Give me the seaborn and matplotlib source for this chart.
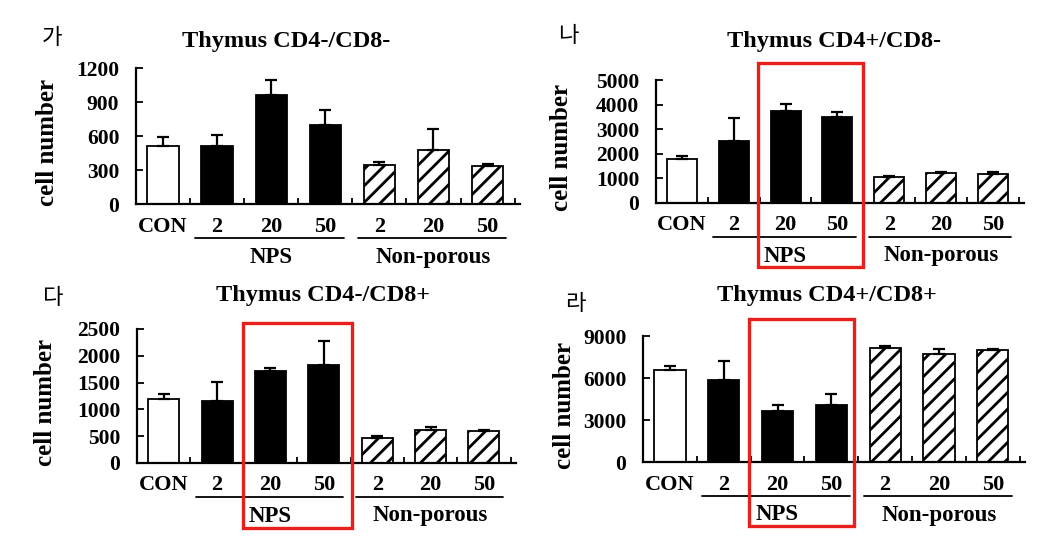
import matplotlib
matplotlib.use('Agg')
import matplotlib.pyplot as plt
import matplotlib.transforms as mtransforms
from matplotlib.patches import Rectangle
import numpy as np
import pandas as pd
import seaborn as sns

# --- data ---
groups = ['CON', 'NPS 2', 'NPS 20', 'NPS 50', 'Non-porous 2', 'Non-porous 20', 'Non-porous 50']
tick_labels = ['CON', '2', '20', '50', '2', '20', '50']
panel_letters = ['가', '나', '다', '라']
titles = ['Thymus CD4-/CD8-', 'Thymus CD4+/CD8-', 'Thymus CD4-/CD8+', 'Thymus CD4+/CD8+']

dn_mean = [510, 515, 960, 700, 345, 480, 335]
dn_err = [80, 95, 135, 130, 30, 185, 15]
cd4_mean = [1770, 2540, 3740, 3500, 1050, 1200, 1160]
cd4_err = [160, 900, 270, 190, 50, 80, 80]
cd8_mean = [1190, 1150, 1725, 1830, 460, 610, 590]
cd8_err = [95, 360, 45, 455, 50, 65, 30]
dp_mean = [6570, 5840, 3620, 4050, 8140, 7740, 8000]
dp_err = [310, 1350, 480, 790, 170, 310, 70]

y_max = [1200, 5000, 2500, 9000]
y_step = [300, 1000, 500, 3000]

# --- layout (pixels in a 1052x547 canvas) ---
W, H = 1052, 547
# left, top, width, height of each plotting area
axes_px = [(136, 68, 384, 136), (656, 80, 368, 123), (137, 329, 379, 134), (643, 336, 382, 126)]
title_px = [(286, 41), (834, 42), (323, 296), (827, 296)]
letter_px = [(52, 37), (568, 35), (53, 297), (575, 304)]
ylabel_x = [-0.2, -0.225, -0.212, -0.175]
# red highlight boxes: x in data units, y in axes fraction
red_boxes = [None, (1.47, 3.49, -0.52, 1.14), (1.48, 3.53, -0.485, 1.045), (1.47, 3.42, -0.51, 1.135)]

sns.set_theme(style='white')
plt.rcParams['font.family'] = ['Liberation Serif', 'DejaVu Serif']
plt.rcParams['font.weight'] = 'bold'
plt.rcParams['hatch.linewidth'] = 2.0
plt.rcParams['hatch.color'] = 'black'
for key in ['text.color', 'axes.labelcolor', 'xtick.color', 'ytick.color', 'axes.edgecolor']:
    plt.rcParams[key] = 'black'

colors = {g: c for g, c in zip(groups, ['white', 'black', 'black', 'black', 'white', 'white', 'white'])}

fig = plt.figure(figsize=(W / 100, H / 100), dpi=100)
fig.patch.set_facecolor('white')

series = [(dn_mean, dn_err), (cd4_mean, cd4_err), (cd8_mean, cd8_err), (dp_mean, dp_err)]

for i, (mean, err) in enumerate(series):
    l, t, w, h = axes_px[i]
    ax = fig.add_axes([l / W, 1 - (t + h) / H, w / W, h / H])
    df = pd.DataFrame({'group': groups, 'value': mean})
    sns.barplot(data=df, x='group', y='value', hue='group', order=groups, hue_order=groups,
                palette=colors, width=0.58, edgecolor='black', linewidth=1.3,
                saturation=1, legend=False, ax=ax)
    for j, cont in enumerate(ax.containers):
        if groups[j].startswith('Non-porous'):
            for p in cont:
                p.set_hatch('//')
    ax.errorbar(np.arange(len(groups)), mean, yerr=[np.zeros(len(err)), err], fmt='none',
                ecolor='black', elinewidth=1.6, capsize=4, capthick=1.6, zorder=3)

    ax.set_xlim(-0.5, 6.6)
    ax.set_ylim(0, y_max[i])
    ax.set_yticks(np.arange(0, y_max[i] + 1, y_step[i]))
    ax.set_xticks(range(len(groups)))
    ax.set_xticklabels(tick_labels)
    ax.set_xticks(np.arange(0.5, 7, 1.0), minor=True)
    ax.tick_params(axis='x', which='major', length=0, pad=9, labelsize=16)
    ax.tick_params(axis='x', which='minor', length=4, width=1.3, direction='in', bottom=True)
    ax.tick_params(axis='y', length=5, width=1.3, direction='in', left=True, pad=12, labelsize=15.5)
    for lab in ax.get_xticklabels() + ax.get_yticklabels():
        lab.set_fontweight('bold')
    ax.set_xlabel('')
    ax.set_ylabel('cell number', fontsize=18, fontweight='bold')
    ax.yaxis.set_label_coords(ylabel_x[i], 0.45)
    sns.despine(ax=ax)
    for s in ['left', 'bottom']:
        ax.spines[s].set_linewidth(1.6)
        ax.spines[s].set_color('black')
    ax.set_facecolor('white')

    # group underlines and labels
    base = ax.get_xaxis_transform()
    line_tr = mtransforms.offset_copy(base, fig=fig, y=-34, units='dots')
    ax.plot([0.6, 3.35], [0, 0], color='black', lw=1.3, transform=line_tr, clip_on=False)
    ax.plot([3.6, 6.35], [0, 0], color='black', lw=1.3, transform=line_tr, clip_on=False)
    text_tr = mtransforms.offset_copy(base, fig=fig, y=-53, units='dots')
    ax.text(2, 0, 'NPS', transform=text_tr, ha='center', va='center', fontsize=16.5, fontweight='bold')
    ax.text(5, 0, 'Non-porous', transform=text_tr, ha='center', va='center', fontsize=16.5, fontweight='bold')

    if red_boxes[i] is not None:
        x0, x1, y0, y1 = red_boxes[i]
        ax.add_patch(Rectangle((x0, y0), x1 - x0, y1 - y0, transform=base, fill=False,
                               edgecolor='#e8201c', linewidth=2.4, clip_on=False, zorder=5))

    tx, ty = title_px[i]
    fig.text(tx / W, 1 - ty / H, titles[i], ha='center', va='center', fontsize=17.5, fontweight='bold')
    lx, ly = letter_px[i]
    fig.text(lx / W, 1 - ly / H, panel_letters[i], ha='center', va='center', fontsize=16,
             fontweight='normal', family=['Noto Sans CJK KR', 'DejaVu Sans'])

fig.savefig('out.png', dpi=100, facecolor='white')
